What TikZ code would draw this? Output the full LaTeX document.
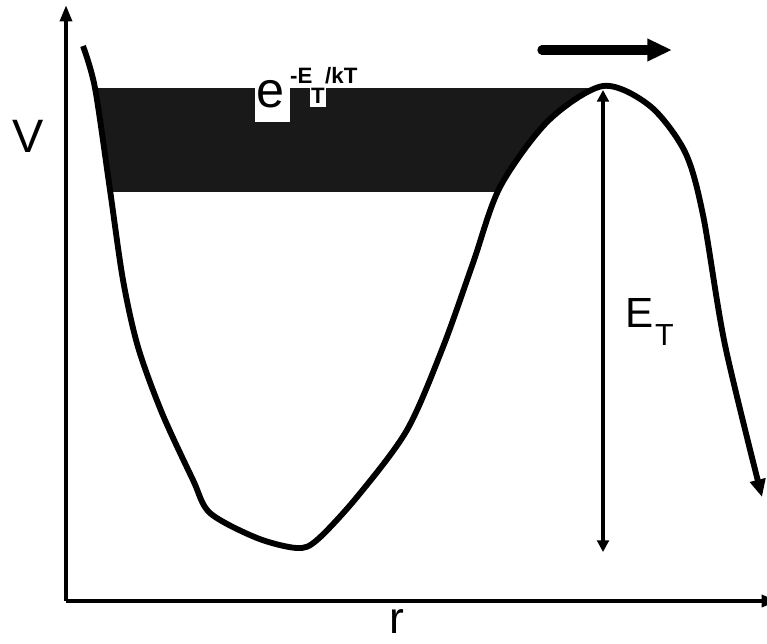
\documentclass[tikz,border=0pt]{standalone}
\usepackage{fontspec}
\setmainfont{Liberation Sans}
\usepackage{tikz}
\usetikzlibrary{positioning, arrows.meta}

\begin{document}
\begin{tikzpicture}[x=0.03cm, y=-0.03cm,
    axis/.style={line width=3.4pt, -{Triangle[length=14pt, width=10pt]}},
    potential/.style={line width=5pt, line join=round, -{Triangle[length=15pt, width=13pt]}},
    gap/.style={line width=3pt, {Triangle[length=10pt, width=10pt]}-{Triangle[length=10pt, width=10pt]}},
    flow/.style={line width=8pt, line cap=round, -{Triangle[length=21pt, width=18pt]}},
    biglabel/.style={inner sep=0pt, anchor=base west, font=\fontsize{40pt}{40pt}\selectfont},
    smalllabel/.style={inner sep=0pt, anchor=base west, font=\fontsize{19pt}{19pt}\selectfont\bfseries}
]
    \useasboundingbox (0,0) rectangle (767,643);

    % Axes
    \coordinate (orig) at (66,601);
    \coordinate (ytop) at (66,5);
    \coordinate (xend) at (778,601);
    \draw[axis] (orig) -- (ytop);
    \draw[axis] (orig) -- (xend);
    \node[biglabel] (vlabel) at (12,152) {V};
    \node[biglabel, font=\fontsize{38pt}{38pt}\selectfont] (rlabel) at (389,633) {r};

    % Thermal population below the barrier
    \begin{scope}
        \clip (0,88) rectangle (767,191);
        \fill[black!90] plot[smooth] coordinates {(83,46) (95,88) (110,190) (123,280) (138,347) (162,413) (193,480) (210,513) (257,538) (297,548) (317,540) (357,497) (407,430) (443,347) (473,263) (500,187) (548,121) (603,86)} -- cycle;
    \end{scope}

    % Boltzmann factor
    \fill[white] (255,88) rectangle (290,122);
    \fill[white] (310,88) rectangle (326,107);
    \node[biglabel, font=\fontsize{43pt}{43pt}\selectfont] (ebase) at (256,107) {e};
    \node[smalllabel] (esup) at (290,83) {-E};
    \node[smalllabel] (esub) at (311,103) {T};
    \node[smalllabel] (erest) at (325,83) {/kT};

    % Potential curve
    \draw[potential] plot[smooth] coordinates {(83,46) (95,88) (110,190) (123,280) (138,347) (162,413) (193,480) (210,513) (257,538) (297,548) (317,540) (357,497) (407,430) (443,347) (473,263) (500,187) (548,121) (603,86) (650,106) (685,152) (703,215) (725,345) (762,497)};

    % Barrier height
    \coordinate (barrier) at (603,90);
    \coordinate (wellfloor) at (603,552);
    \draw[gap] (wellfloor) -- (barrier);
    \node[biglabel, font=\fontsize{36pt}{36pt}\selectfont] (elabel) at (625,327) {E};
    \node[biglabel, font=\fontsize{26pt}{26pt}\selectfont] (tlabel) at (655,345) {T};

    % Escape direction
    \coordinate (flowstart) at (542,50);
    \coordinate (flowend) at (672,50);
    \draw[flow] (flowstart) -- (flowend);
\end{tikzpicture}
\end{document}
